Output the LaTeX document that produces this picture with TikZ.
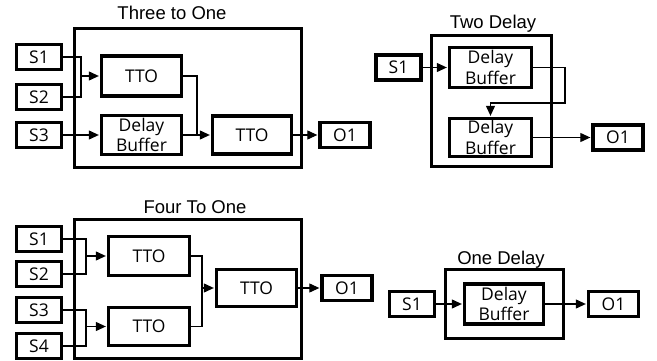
\documentclass[tikz,border=0pt]{standalone}
\usepackage{fontspec}
\newfontfamily\titlefont{Liberation Sans}
\newfontfamily\labfont{Open Sans}
\usetikzlibrary{arrows.meta}
\tikzset{
  box/.style={draw, line width=3.3pt, inner sep=0pt, align=center,
    font=\labfont\fontsize{17.5}{20.5}\selectfont},
  outerbox/.style={draw, line width=3.2pt, inner sep=0pt},
  ttl/.style={anchor=base, inner sep=0pt, font=\titlefont\fontsize{18.5}{20}\selectfont},
  sbox/.style={box, minimum width=45pt, minimum height=25pt},
  obox/.style={box, minimum width=50pt, minimum height=25pt},
  conn/.style={line width=1.1pt},
  arr/.style={conn, -{Triangle[length=10pt,width=9pt]}, shorten >=1pt},
}
\begin{document}
\begin{tikzpicture}[x=1pt,y=-1pt]
\useasboundingbox (0,0) rectangle (657,361);

% ---------- Three to One ----------
\node[outerbox, minimum width=227pt, minimum height=139pt] (A) at (188,98) {};
\node[ttl] (tA) at (172,20) {Three to One};
\node[sbox] (S1a) at (39,57) {S1};
\node[sbox] (S2a) at (39,97) {S2};
\node[sbox] (S3a) at (39,135) {S3};
\node[box, minimum width=80pt, minimum height=40pt] (T1a) at (141.5,76) {TTO};
\node[box, minimum width=80pt, minimum height=39pt] (Da) at (141.5,135) {Delay\\Buffer};
\node[box, minimum width=79pt, minimum height=38pt] (T2a) at (252,135) {TTO};
\node[obox] (O1a) at (345,135) {O1};
\coordinate (ja) at (81,76);
\coordinate (jb) at (197,135);
\draw[conn] (S1a.east) -| (ja) |- (S2a.east);
\draw[arr] (ja) -- (T1a.west);
\draw[arr] (S3a.east) -- (Da.west);
\draw[conn] (T1a.east) -| (jb);
\draw[arr] (Da.east) -- (T2a.west);
\draw[arr] (T2a.east) -- (O1a.west);

% ---------- Two Delay ----------
\node[outerbox, minimum width=120pt, minimum height=131pt] (B) at (491.5,101) {};
\node[ttl] (tB) at (493,29) {Two Delay};
\node[sbox] (S1b) at (398.5,67.5) {S1};
\node[box, minimum width=82pt, minimum height=40pt] (D1b) at (490.5,67.5) {Delay\\Buffer};
\node[box, minimum width=82pt, minimum height=38pt] (D2b) at (490.5,137.5) {Delay\\Buffer};
\node[obox] (O1b) at (618,137.5) {O1};
\coordinate (jd) at (565,103);
\draw[arr] (S1b.east) -- (D1b.west);
\draw[arr] (D1b.east) -| (jd) -| (D2b.north);
\draw[arr] (D2b.east) -- (O1b.west);

% ---------- Four To One ----------
\node[outerbox, minimum width=227pt, minimum height=139pt] (C) at (188,289) {};
\node[ttl] (tC) at (195,213) {Four To One};
\node[sbox] (S1c) at (39,239) {S1};
\node[sbox] (S2c) at (39,274) {S2};
\node[sbox] (S3c) at (39,310) {S3};
\node[sbox] (S4c) at (39,346) {S4};
\node[box, minimum width=81pt, minimum height=39pt] (T1c) at (149,256) {TTO};
\node[box, minimum width=81pt, minimum height=38pt] (T2c) at (149,326.5) {TTO};
\node[box, minimum width=80pt, minimum height=37pt] (T3c) at (256.5,288) {TTO};
\node[obox] (O1c) at (347,288) {O1};
\coordinate (jc1) at (86,256);
\coordinate (jc2) at (86,326.5);
\coordinate (jc3) at (202,288);
\draw[conn] (S1c.east) -| (jc1) |- (S2c.east);
\draw[arr] (jc1) -- (T1c.west);
\draw[conn] (S3c.east) -| (jc2) |- (S4c.east);
\draw[arr] (jc2) -- (T2c.west);
\draw[conn] (T1c.east) -| (jc3) |- (T2c.east);
\draw[arr] (jc3) -- (T3c.west);
\draw[arr] (T3c.east) -- (O1c.west);

% ---------- One Delay ----------
\node[outerbox, minimum width=118pt, minimum height=69pt] (D) at (504.5,304) {};
\node[ttl] (tD) at (501,264) {One Delay};
\node[sbox] (S1d) at (412,304) {S1};
\node[box, minimum width=79pt, minimum height=40pt] (Dd) at (504,304) {Delay\\Buffer};
\node[obox] (O1d) at (613.5,304) {O1};
\draw[arr] (S1d.east) -- (Dd.west);
\draw[arr] (Dd.east) -- (O1d.west);
\end{tikzpicture}
\end{document}
